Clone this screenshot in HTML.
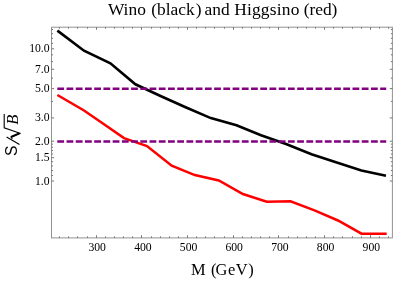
<!DOCTYPE html>
<html><head><meta charset="utf-8"><title>Wino and Higgsino</title>
<style>html,body{margin:0;padding:0;background:#fff;overflow:hidden}svg{display:block}text{filter:grayscale(1);font-family:"Liberation Serif",serif;fill:#000}</style></head><body>
<svg width="415" height="282" viewBox="0 0 415 282">
<rect width="415" height="282" fill="#fff"/>
<polyline points="57.4,30.6 84.0,50.7 110.4,63.3 135.4,84.3 160.5,96.0 185.6,107.3 210.8,118.1 236.5,125.3 261.0,135.2 286.0,144.0 311.5,154.3 336.0,162.3 361.4,170.6 386.0,175.7" fill="none" stroke="#000" stroke-width="2.6" stroke-linejoin="miter"/>
<polyline points="57.4,95.0 84.0,110.5 104.0,124.2 124.0,138.1 147.0,146.1 171.7,165.7 194.8,175.1 218.8,180.5 242.9,194.0 266.8,201.7 290.5,201.3 314.5,210.4 338.0,220.5 361.5,233.7 386.7,233.7" fill="none" stroke="#ff0000" stroke-width="2.55" stroke-linejoin="miter"/>
<line x1="57.3" x2="386.2" y1="88.7" y2="88.7" stroke="#800080" stroke-width="2.5" stroke-dasharray="6.8 2.425"/>
<line x1="57.3" x2="386.2" y1="141.4" y2="141.4" stroke="#800080" stroke-width="2.5" stroke-dasharray="6.8 2.425"/>
<rect x="51.5" y="27.2" width="340.9" height="210.7" fill="none" stroke="#929292" stroke-width="1"/>
<path d="M59.50 237.85v-1.5M59.50 27.2v1.5M68.50 237.85v-1.5M68.50 27.2v1.5M77.50 237.85v-1.5M77.50 27.2v1.5M87.50 237.85v-1.5M87.50 27.2v1.5M96.50 237.85v-2.6M96.50 27.2v2.6M105.50 237.85v-1.5M105.50 27.2v1.5M114.50 237.85v-1.5M114.50 27.2v1.5M123.50 237.85v-1.5M123.50 27.2v1.5M132.50 237.85v-1.5M132.50 27.2v1.5M141.50 237.85v-2.6M141.50 27.2v2.6M151.50 237.85v-1.5M151.50 27.2v1.5M160.50 237.85v-1.5M160.50 27.2v1.5M169.50 237.85v-1.5M169.50 27.2v1.5M178.50 237.85v-1.5M178.50 27.2v1.5M187.50 237.85v-2.6M187.50 27.2v2.6M196.50 237.85v-1.5M196.50 27.2v1.5M205.50 237.85v-1.5M205.50 27.2v1.5M214.50 237.85v-1.5M214.50 27.2v1.5M224.50 237.85v-1.5M224.50 27.2v1.5M233.50 237.85v-2.6M233.50 27.2v2.6M242.50 237.85v-1.5M242.50 27.2v1.5M251.50 237.85v-1.5M251.50 27.2v1.5M260.50 237.85v-1.5M260.50 27.2v1.5M269.50 237.85v-1.5M269.50 27.2v1.5M278.50 237.85v-2.6M278.50 27.2v2.6M288.50 237.85v-1.5M288.50 27.2v1.5M297.50 237.85v-1.5M297.50 27.2v1.5M306.50 237.85v-1.5M306.50 27.2v1.5M315.50 237.85v-1.5M315.50 27.2v1.5M324.50 237.85v-2.6M324.50 27.2v2.6M333.50 237.85v-1.5M333.50 27.2v1.5M342.50 237.85v-1.5M342.50 27.2v1.5M352.50 237.85v-1.5M352.50 27.2v1.5M361.50 237.85v-1.5M361.50 27.2v1.5M370.50 237.85v-2.6M370.50 27.2v2.6M379.50 237.85v-1.5M379.50 27.2v1.5M388.50 237.85v-1.5M388.50 27.2v1.5M51.5 181.00h2.6M392.4 181.00h-2.6M51.5 157.72h2.6M392.4 157.72h-2.6M51.5 141.20h2.6M392.4 141.20h-2.6M51.5 117.92h2.6M392.4 117.92h-2.6M51.5 88.60h2.6M392.4 88.60h-2.6M51.5 69.28h2.6M392.4 69.28h-2.6M51.5 48.80h2.6M392.4 48.80h-2.6M51.5 175.53h1.5M392.4 175.53h-1.5M51.5 170.53h1.5M392.4 170.53h-1.5M51.5 165.94h1.5M392.4 165.94h-1.5M51.5 161.68h1.5M392.4 161.68h-1.5M51.5 154.02h1.5M392.4 154.02h-1.5M51.5 150.53h1.5M392.4 150.53h-1.5M51.5 147.25h1.5M392.4 147.25h-1.5M51.5 144.15h1.5M392.4 144.15h-1.5M51.5 101.41h1.5M392.4 101.41h-1.5M51.5 78.13h1.5M392.4 78.13h-1.5M51.5 61.61h1.5M392.4 61.61h-1.5M51.5 54.85h1.5M392.4 54.85h-1.5M51.5 43.33h1.5M392.4 43.33h-1.5M51.5 38.33h1.5M392.4 38.33h-1.5M51.5 33.74h1.5M392.4 33.74h-1.5M51.5 29.48h1.5M392.4 29.48h-1.5" fill="none" stroke="#666" stroke-width="0.9"/>
<g font-size="11.7">
<text x="97.2" y="251.2" text-anchor="middle">300</text>
<text x="142.9" y="251.2" text-anchor="middle">400</text>
<text x="188.6" y="251.2" text-anchor="middle">500</text>
<text x="234.2" y="251.2" text-anchor="middle">600</text>
<text x="279.9" y="251.2" text-anchor="middle">700</text>
<text x="325.6" y="251.2" text-anchor="middle">800</text>
<text x="371.3" y="251.2" text-anchor="middle">900</text>
<text x="49.6" y="184.5" text-anchor="end">1.0</text>
<text x="49.6" y="161.2" text-anchor="end">1.5</text>
<text x="49.6" y="144.7" text-anchor="end">2.0</text>
<text x="49.6" y="121.4" text-anchor="end">3.0</text>
<text x="49.6" y="92.1" text-anchor="end">5.0</text>
<text x="49.6" y="72.8" text-anchor="end">7.0</text>
<text x="49.6" y="52.3" text-anchor="end">10.0</text>
</g>
<text x="107.9" y="15.4" font-size="17.4">Wino <tspan dx="1">(black</tspan><tspan dx="1">)</tspan> <tspan dx="-1.3">and</tspan> <tspan dx="0.2" letter-spacing="0.2">Higgsino</tspan> <tspan dx="-0.3">(red)</tspan></text>
<text x="191.1" y="275.3" font-size="16.4">M <tspan dx="1.2">(</tspan><tspan dx="-0.9" letter-spacing="0.55">GeV)</tspan></text>
<g transform="translate(18.2 155.4) rotate(-90)">
<text x="-0.6" y="-0.9" font-size="15.6" style="font-family:'Liberation Sans',sans-serif;stroke:none">S</text>
<line x1="11" y1="1.3" x2="18.4" y2="-11.6" stroke="#000" stroke-width="1.1"/>
<path d="M16.4 -5.9 L18.4 -7.2 L22.1 1.7 L27.6 -14 L41.5 -14" fill="none" stroke="#000" stroke-width="1.1" stroke-linejoin="miter"/>
<path d="M18.4 -7.2 L22.0 1.2" fill="none" stroke="#000" stroke-width="2"/>
<text x="30.6" y="0" font-size="16.5" font-style="italic" style="stroke:none">B</text>
</g>
</svg></body></html>
